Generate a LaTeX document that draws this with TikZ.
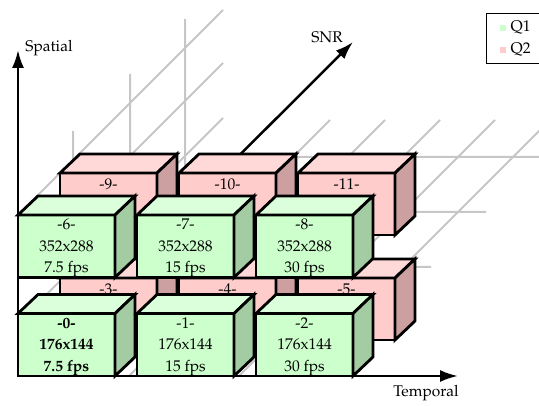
\documentclass[tikz,border=0pt]{standalone}
\usepackage[T1]{fontenc}
\usepackage{mathpazo}
\usepackage{xcolor}
\usepackage{tikz}
\usetikzlibrary{arrows.meta}
\usetikzlibrary{positioning}
\usetikzlibrary{calc}
\definecolor{vertFace}{RGB}{204,255,204}
\definecolor{vertTop}{RGB}{218,255,218}
\definecolor{vertSide}{RGB}{163,204,163}
\definecolor{roseFace}{RGB}{255,204,204}
\definecolor{roseTop}{RGB}{255,216,216}
\definecolor{roseSide}{RGB}{204,160,160}
\definecolor{gris}{RGB}{198,198,198}
\tikzset{
    bloc/.style = {draw, line width=2.8pt, outer sep=0pt, inner sep=0pt, minimum width=97pt, minimum height=62.5pt},
    q1/.style = {fill=vertFace},
    q2/.style = {fill=roseFace, minimum height=62pt},
    titre/.style = {anchor=north, align=center, inner sep=4pt},
    titreq2/.style = {titre, yshift=-2pt},
    gras/.style = {titre, font=\fontsize{15.5}{21.5}\selectfont\bfseries},
    grille/.style = {draw=gris, line width=2pt},
    axe/.style = {line width=2.5pt, -{Latex[length=18pt, width=12pt]}},
    legende/.style = {draw, line width=1.4pt, minimum width=60pt, minimum height=50pt},
    carre/.style = {minimum size=6pt, inner sep=0pt},
    >=Latex
}
% faces du dessus et de droite d'un bloc
\newcommand{\faces}[2]{%
    \draw[line width=2.8pt, fill=#2Top] (#1.north west) -- ++(20,19) -- ($(#1.north east)+(20,19)$) -- (#1.north east) -- cycle;
    \draw[line width=2.8pt, fill=#2Side] (#1.north east) -- ++(20,19) -- ($(#1.south east)+(20,19)$) -- (#1.south east) -- cycle;
}
\begin{document}
\begin{tikzpicture}[x=1pt, y=1pt, node distance=36pt and 22pt, font=\fontsize{15.5}{21.5}\selectfont]
    \useasboundingbox (0,0) rectangle (539,406);
    \coordinate (O) at (18,30);
    % grille
    \path[grille] (73,85) -- (73,275) (130,142) -- (130,332) (185,197) -- (185,387)
        (18,83) -- (223,288) (18,138) -- (223,343) (18,191) -- (223,396);
    \path[grille] (127,139) -- (431,139) (182,194) -- (486,194) (237,249) -- (541,249)
        (74,30) -- (330,286) (129,30) -- (385,286) (184,30) -- (440,286)
        (239,30) -- (495,286) (294,30) -- (550,286);
    % axes
    \coordinate (S) at (18,356);
    \coordinate (T) at (458,30);
    \coordinate (R) at (353,364);
    \draw[axe] (O) -- (S);
    \draw[axe] (O) -- (T);
    \draw[axe] (O) -- (R);
    \node (lS) at (49,358) {Spatial};
    \node (lR) at (327,369) {SNR};
    \node (lT) at (426,13) {Temporal};
    % Q2
    \node (p3) [bloc, q2, above right=36pt and 42pt of O, label={[titreq2]north:-3-}] {};
    \faces{p3}{rose}
    \node (p4) [bloc, q2, right=of p3, label={[titreq2]north:-4-}] {};
    \faces{p4}{rose}
    \node (p5) [bloc, q2, right=of p4, label={[titreq2]north:-5-}] {};
    \faces{p5}{rose}
    \node (p9) [bloc, q2, above=43pt of p3, label={[titreq2]north:-9-}] {};
    \faces{p9}{rose}
    \node (p10) [bloc, q2, right=of p9, label={[titreq2]north:-10-}] {};
    \faces{p10}{rose}
    \node (p11) [bloc, q2, right=of p10, label={[titreq2]north:-11-}] {};
    \faces{p11}{rose}
    % Q1
    \node (g0) [bloc, q1, anchor=south west, label={[gras]north:{-0-\\176x144\\7.5 fps}}] at (O) {};
    \faces{g0}{vert}
    \node (g1) [bloc, q1, right=of g0, label={[titre]north:{-1-\\176x144\\15 fps}}] {};
    \faces{g1}{vert}
    \node (g2) [bloc, q1, right=of g1, label={[titre]north:{-2-\\176x144\\30 fps}}] {};
    \faces{g2}{vert}
    \node (g6) [bloc, q1, above=of g0, label={[titre]north:{-6-\\352x288\\7.5 fps}}] {};
    \faces{g6}{vert}
    \node (g7) [bloc, q1, right=of g6, label={[titre]north:{-7-\\352x288\\15 fps}}] {};
    \faces{g7}{vert}
    \node (g8) [bloc, q1, right=of g7, label={[titre]north:{-8-\\352x288\\30 fps}}] {};
    \faces{g8}{vert}
    % legende
    \node (cadre) [legende, anchor=north west] at (486,393) {};
    \node (c1) [carre, fill=vertFace] at ($(cadre.north west)+(17,-15)$) {};
    \node (c2) [carre, fill=roseFace] at ($(cadre.north west)+(17,-37)$) {};
    \node (t1) [right=1pt of c1] {Q1};
    \node (t2) [right=1pt of c2] {Q2};
\end{tikzpicture}
\end{document}
